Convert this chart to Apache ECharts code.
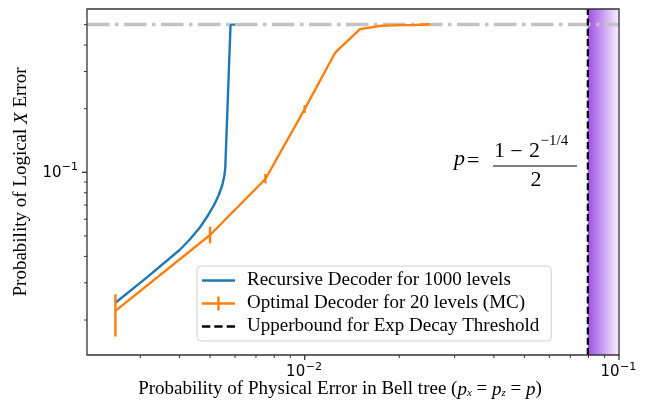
<!DOCTYPE html>
<html><head><meta charset="utf-8">
<script src="https://cdn.jsdelivr.net/npm/echarts@6/dist/echarts.min.js"></script>
<style>html,body{margin:0;padding:0;background:#fff}#c{width:647px;height:406px}</style>
</head><body><div id="c"></div>
<script>
// ---- data ----
const recursiveX = [0.0025, 0.00317, 0.0040, 0.00431, 0.00464, 0.00491, 0.00514, 0.00533, 0.00547, 0.00555, 0.00559, 0.00581, 0.00669];
const recursiveY = [0.02415, 0.0321, 0.0429, 0.0481, 0.0548, 0.0621, 0.0697, 0.0781, 0.0871, 0.0961, 0.1048, 0.5, 0.5];
const optimalX = [0.0025, 0.005, 0.0075, 0.01, 0.0125, 0.015, 0.0175, 0.02, 0.0225, 0.025];
const optimalY = [0.0221, 0.0505, 0.093, 0.199, 0.368, 0.476, 0.494, 0.497, 0.498, 0.502];
const optimalLow = [0.0167, 0.0461, 0.0887, 0.191, 0.365, 0.474, 0.493, 0.496, 0.497, 0.501];
const optimalHigh = [0.0265, 0.0553, 0.0982, 0.208, 0.371, 0.478, 0.495, 0.498, 0.499, 0.503];
const capLevel = 0.5;
const threshold = 0.0796;
const xMin = 0.00203, xMax = 0.1, yMin = 0.01366, yMax = 0.5927;
const xMajorTicks = [0.01, 0.1];
const xMinorTicks = [0.003,0.004,0.005,0.006,0.007,0.008,0.009,0.02,0.03,0.04,0.05,0.06,0.07,0.08,0.09];
const yMajorTicks = [0.1];
const yMinorTicks = [0.02,0.03,0.04,0.05,0.06,0.07,0.08,0.09,0.2,0.3,0.4,0.5];
const xTickBase = ['10','10'], xTickExp = ['\u22122','\u22121'];
const yTickBase = ['10'], yTickExp = ['\u22121'];
const seriesNames = ['Recursive Decoder for 1000 levels','Optimal Decoder for 20 levels (MC)','Upperbound for Exp Decay Threshold'];

const serif = 'Liberation Serif';
const chart = echarts.init(document.getElementById('c'), null, {renderer:'canvas'});
const spk = 'M0,0h0.01v0.01h-0.01zM40,23h-0.01v-0.01h0.01z';
const option = {
  animation: false,
  grid: {left: 87, top: 9, right: 28, bottom: 51},
  xAxis: {
    type: 'log', logBase: 10, min: xMin, max: xMax,
    axisLine: {show: false}, axisTick: {show: false}, axisLabel: {show: false}, splitLine: {show: false},
    name: '{n|Probability of Physical Error in Bell tree (}{i|p}{s|x}{n| = }{i|p}{s|z}{n| = }{i|p}{n|)}',
    nameLocation: 'middle', nameGap: 23,
    nameTextStyle: {padding: [0, 26, 0, 0], rich: {
      n: {fontFamily: serif, fontSize: 19, color: '#000', lineHeight: 21, verticalAlign: 'bottom'},
      i: {fontFamily: serif, fontSize: 19, fontStyle: 'italic', color: '#000', lineHeight: 21, verticalAlign: 'bottom'},
      s: {fontFamily: serif, fontSize: 11, fontStyle: 'italic', color: '#000', lineHeight: 7, verticalAlign: 'bottom'}
    }}
  },
  yAxis: {
    type: 'log', logBase: 10, min: yMin, max: yMax,
    axisLine: {show: false}, axisTick: {show: false}, axisLabel: {show: false}, splitLine: {show: false},
    name: '{n|Probability of Logical }{i|X}{n| Error}',
    nameLocation: 'middle', nameGap: 56,
    nameTextStyle: {rich: {
      n: {fontFamily: serif, fontSize: 19, color: '#000'},
      i: {fontFamily: serif, fontSize: 19, fontStyle: 'italic', color: '#000'}
    }}
  },
  legend: {
    orient: 'vertical', left: 197, top: 266, padding: [3, 12, 3, 5],
    itemGap: 0, itemWidth: 40, itemHeight: 23,
    backgroundColor: 'rgba(255,255,255,0.85)', borderColor: '#d0d0d0', borderWidth: 1, borderRadius: 4,
    itemStyle: {borderWidth: 0},
    textStyle: {fontFamily: serif, fontSize: 19, color: '#000', lineHeight: 23},
    data: [
      {name: seriesNames[0], icon: 'path://' + spk + 'M0,10.3h33v2.4h-33z'},
      {name: seriesNames[1], icon: 'path://' + spk + 'M0,10.3h33v2.4h-33zM15.3,4.5h2.4v14h-2.4z'},
      {name: seriesNames[2], icon: 'path://' + spk + 'M0,10.3h8.3v2.4h-8.3zM12.3,10.3h8.3v2.4h-8.3zM24.7,10.3h8.3v2.4h-8.3z'}
    ]
  },
  series: [
    {name: seriesNames[0], type: 'line', symbol: 'none', z: 2, silent: true,
     data: recursiveX.map((x, i) => [x, recursiveY[i]]),
     lineStyle: {color: '#1f77b4', width: 2.4}, itemStyle: {color: '#1f77b4'}},
    {name: 'cap', type: 'line', symbol: 'none', z: 3, silent: true,
     data: [[xMin, capLevel], [xMax, capLevel]],
     lineStyle: {color: '#c2c2c2', width: 3.5, type: [22.5, 5.5, 3.5, 5.5]}},
    {name: seriesNames[1], type: 'line', symbol: 'none', z: 4, silent: true,
     data: optimalX.map((x, i) => [x, optimalY[i]]),
     lineStyle: {color: '#ff7f0e', width: 2.4}, itemStyle: {color: '#ff7f0e'}},
    {name: 'optimalErr', type: 'custom', z: 4, silent: true,
     data: optimalX.map((x, i) => [x, optimalLow[i], optimalHigh[i]]),
     encode: {x: 0, y: [1, 2]},
     renderItem: function (params, api) {
       const lo = api.coord([api.value(0), api.value(1)]);
       const hi = api.coord([api.value(0), api.value(2)]);
       return {type: 'line', shape: {x1: lo[0], y1: lo[1], x2: hi[0], y2: hi[1]},
               style: {stroke: '#ff7f0e', lineWidth: 2.4}};
     }},
    {name: seriesNames[2], type: 'line', symbol: 'none', z: 5, silent: true,
     data: [[threshold, yMin], [threshold, yMax]],
     lineStyle: {color: '#000', width: 2.3, type: [7, 3.3]}, itemStyle: {color: '#000'},
     markArea: {silent: true, z: 1,
       itemStyle: {color: {type: 'linear', x: 0, y: 0, x2: 1, y2: 0, colorStops: [
         {offset: 0, color: 'rgb(158,80,230)'}, {offset: 0.5, color: 'rgb(203,160,243)'}, {offset: 1, color: 'rgb(248,242,255)'}]}},
       data: [[{xAxis: threshold}, {xAxis: xMax}]]}}
  ]
};
chart.setOption(option);

const px = v => chart.convertToPixel({xAxisIndex: 0}, v);
const py = v => chart.convertToPixel({yAxisIndex: 0}, v);
const L = px(xMin), R = px(xMax), T = py(yMax), B = py(yMin);
const g = [];
const ax = '#333';
g.push({type: 'rect', shape: {x: L, y: T, width: R - L, height: B - T}, style: {fill: null, stroke: ax, lineWidth: 1.3}, z: 100, silent: true});
xMajorTicks.forEach((v, i) => {
  const x = px(v);
  g.push({type: 'line', shape: {x1: x, y1: B, x2: x, y2: B + 5}, style: {stroke: ax, lineWidth: 1.3}, z: 100});
  g.push({type: 'text', x: x + 0.5, y: 372.5, style: {text: xTickBase[i], font: '15px "DejaVu Sans"', fill: '#000', align: 'right', verticalAlign: 'middle'}, z: 100});
  g.push({type: 'text', x: x + 1, y: 367, style: {text: xTickExp[i], font: '11px "DejaVu Sans"', fill: '#000', align: 'left', verticalAlign: 'middle'}, z: 100});
});
xMinorTicks.forEach(v => {
  const x = px(v);
  g.push({type: 'line', shape: {x1: x, y1: B, x2: x, y2: B + 3}, style: {stroke: ax, lineWidth: 1}, z: 100});
});
yMajorTicks.forEach((v, i) => {
  const y = py(v);
  g.push({type: 'line', shape: {x1: L - 5, y1: y, x2: L, y2: y}, style: {stroke: ax, lineWidth: 1.3}, z: 100});
  g.push({type: 'text', x: 78, y: y - 5, style: {text: yTickExp[i], font: '11px "DejaVu Sans"', fill: '#000', align: 'right', verticalAlign: 'middle'}, z: 100});
  g.push({type: 'text', x: 61.5, y: y + 0.5, style: {text: yTickBase[i], font: '15px "DejaVu Sans"', fill: '#000', align: 'right', verticalAlign: 'middle'}, z: 100});
});
yMinorTicks.forEach(v => {
  const y = py(v);
  g.push({type: 'line', shape: {x1: L - 3, y1: y, x2: L, y2: y}, style: {stroke: ax, lineWidth: 1}, z: 100});
});
// annotation p = (1 - 2^{-1/4}) / 2
const af = '"Liberation Serif"';
const t = (x, y, s, f, al) => g.push({type: 'text', x: x, y: y, style: {text: s, font: f, fill: '#000', align: al || 'left', verticalAlign: 'middle'}, z: 100});
t(454, 159, 'p', 'italic 22px ' + af);
t(467, 161, '=', '22px ' + af);
t(494, 151, '1', '22px ' + af);
t(516.5, 152, '\u2212', '22px ' + af, 'center');
t(529, 151, '2', '22px ' + af);
t(540.5, 141, '\u22121/4', '15px ' + af);
g.push({type: 'line', shape: {x1: 493, y1: 166, x2: 577, y2: 166}, style: {stroke: '#000', lineWidth: 1}, z: 100});
t(536, 180, '2', '22px ' + af, 'center');
chart.setOption({graphic: g});
</script></body></html>
